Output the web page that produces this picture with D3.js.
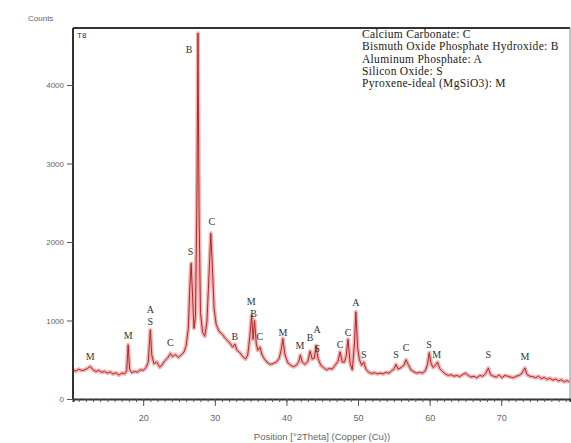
<!DOCTYPE html>
<html>
<head>
<meta charset="utf-8">
<script src="https://cdn.jsdelivr.net/npm/d3@7"></script>
<style>
  body { margin: 0; background: #fff; }
  svg { display: block; }
</style>
</head>
<body>
<div id="chart"></div>
<script>
var twoTheta = [10.2,10.6,11.0,11.4,11.8,12.2,12.6,13.0,13.4,13.8,14.2,14.6,15.0,15.4,15.8,16.2,16.6,17.0,17.4,17.7,17.9,18.1,18.4,18.8,19.2,19.6,20.0,20.4,20.7,21.0,21.2,21.5,21.9,22.3,22.6,23.0,23.4,23.8,24.1,24.5,24.9,25.3,25.7,26.0,26.3,26.5,26.7,26.9,27.1,27.3,27.5,27.65,27.8,28.0,28.3,28.6,28.9,29.2,29.45,29.7,29.9,30.2,30.6,31.0,31.4,31.8,32.2,32.5,32.8,33.1,33.5,33.9,34.3,34.6,34.9,35.15,35.35,35.55,35.8,36.0,36.3,36.6,37.0,37.4,37.8,38.2,38.6,39.0,39.3,39.5,39.8,40.2,40.6,41.0,41.4,41.7,41.95,42.2,42.6,43.0,43.3,43.6,43.9,44.15,44.4,44.8,45.2,45.6,46.0,46.4,46.8,47.2,47.5,47.8,48.1,48.35,48.6,48.9,49.2,49.5,49.7,49.95,50.2,50.5,50.8,51.1,51.5,51.9,52.3,52.7,53.1,53.5,53.9,54.3,54.7,55.0,55.3,55.6,56.0,56.4,56.7,57.0,57.4,57.8,58.2,58.6,59.0,59.4,59.7,59.95,60.2,60.5,60.8,61.1,61.4,61.8,62.2,62.6,63.0,63.4,63.8,64.2,64.6,65.0,65.4,65.8,66.2,66.6,67.0,67.4,67.8,68.2,68.5,68.9,69.3,69.7,70.1,70.5,70.9,71.3,71.7,72.1,72.5,72.9,73.3,73.6,74.0,74.4,74.8,75.2,75.6,76.0,76.4,76.8,77.2,77.6,78.0,78.4,78.8,79.2,79.5];
var counts = [372,355,380,362,370,388,415,372,350,365,340,352,330,345,318,335,305,330,322,360,690,380,335,350,342,372,365,400,470,880,560,450,470,405,430,485,520,580,540,565,530,560,600,680,900,1400,1730,1300,900,1050,2500,4660,2400,1100,850,800,980,1600,2110,1600,1150,950,860,830,780,740,700,660,700,620,590,540,510,560,800,1070,760,1000,700,620,660,560,500,460,440,455,470,520,640,770,560,460,430,410,430,470,560,470,440,480,610,510,520,680,520,430,400,370,390,380,430,480,600,470,470,550,760,450,370,700,1110,650,500,430,470,380,340,325,335,320,330,320,340,330,360,380,440,380,400,430,500,440,370,345,330,340,330,360,440,590,450,400,430,470,390,350,320,300,310,290,300,285,310,330,300,280,290,270,300,290,320,395,310,290,280,305,270,300,290,280,270,290,300,330,395,310,290,285,270,290,260,275,250,265,240,255,230,245,220,235,215];

// phase markers: letter, 2theta and the count level of the letter
var peakLabels = ["M","M","A","S","C","S","B","C","B","M","B","C","M","M","B","A","S","C","C","A","S","S","C","S","M","S","M"];
var peakTheta  = [12.6,17.9,21.0,21.0,23.8,26.6,26.4,29.6,32.8,35.1,35.4,36.3,39.5,41.9,43.3,44.3,44.3,47.5,48.6,49.7,50.8,55.3,56.7,59.9,61.0,68.2,73.3];
var peakLevel  = [497,764,1096,943,675,1834,4408,2217,752,1197,1045,752,803,637,739,841,599,650,803,1185,522,522,611,650,522,522,497];

var legendLines = ["Calcium Carbonate: C","Bismuth Oxide Phosphate Hydroxide: B","Aluminum Phosphate: A","Silicon Oxide: S","Pyroxene-ideal (MgSiO3): M"];
var xTicks = [20,30,40,50,60,70];
var yTicks = [0,1000,2000,3000,4000];

var W = 571, H = 443;
var mLeft = 73, mRight = 570, mTop = 28, mBottom = 399;

var svg = d3.select("#chart").append("svg")
  .attr("width", W).attr("height", H);

var x = d3.scaleLinear().domain([10.2, 79.6]).range([mLeft, mRight]);
var y = d3.scaleLinear().domain([0, 4726]).range([mBottom, mTop]);

var pts = twoTheta.map(function(t, i) { return [t, counts[i]]; });
var line = d3.line()
  .x(function(d) { return x(d[0]); })
  .y(function(d) { return y(d[1]); });

// pink halo under the trace
svg.append("path").datum(pts)
  .attr("d", line).attr("fill", "none")
  .attr("stroke", "#f3b3b3").attr("stroke-width", 4)
  .attr("stroke-linejoin", "round");
svg.append("path").datum(pts)
  .attr("d", line).attr("fill", "none")
  .attr("stroke", "#b3262b").attr("stroke-width", 1)
  .attr("stroke-linejoin", "round");

// frame
svg.append("line").attr("x1", mLeft).attr("x2", mRight).attr("y1", mTop).attr("y2", mTop)
  .attr("stroke", "#333").attr("stroke-width", 2);
svg.append("line").attr("x1", mRight).attr("x2", mRight).attr("y1", mTop).attr("y2", mBottom)
  .attr("stroke", "#888").attr("stroke-width", 1);

// x axis, minor ticks every degree
var xAxisMinor = d3.axisBottom(x).tickValues(d3.range(11, 80, 1)).tickSize(3).tickFormat("");
var gxm = svg.append("g").attr("transform", "translate(0," + mBottom + ")").call(xAxisMinor);
gxm.select(".domain").attr("stroke", "#333").attr("stroke-width", 2);
gxm.selectAll(".tick line").attr("stroke", "#555");

var xAxis = d3.axisBottom(x).tickValues(xTicks).tickSize(7).tickPadding(9);
var gx = svg.append("g").attr("transform", "translate(0," + mBottom + ")").call(xAxis);
gx.select(".domain").remove();
gx.selectAll(".tick line").attr("stroke", "#555");
gx.selectAll(".tick text").attr("fill", "#666")
  .style("font-family", "Liberation Sans, Arial, sans-serif").style("font-size", "9px");

var yAxis = d3.axisLeft(y).tickValues(yTicks).tickSize(6).tickPadding(3).tickFormat(d3.format("d"));
var gy = svg.append("g").attr("transform", "translate(" + mLeft + ",0)").call(yAxis);
gy.select(".domain").attr("stroke", "#333").attr("stroke-width", 2)
  .attr("d", "M0," + mTop + "V" + mBottom);
gy.selectAll(".tick line").attr("stroke", "#555");
gy.selectAll(".tick text").attr("fill", "#666")
  .style("font-family", "Liberation Sans, Arial, sans-serif").style("font-size", "8px");

svg.append("text").attr("x", 28).attr("y", 21).text("Counts")
  .attr("fill", "#666").style("font-family", "Liberation Sans, Arial, sans-serif").style("font-size", "8px");

svg.append("text").attr("x", 322).attr("y", 440)
  .attr("text-anchor", "middle").text("Position [°2Theta] (Copper (Cu))")
  .attr("fill", "#666").style("font-family", "Liberation Sans, Arial, sans-serif").style("font-size", "9.5px");

svg.append("text").attr("x", 77).attr("y", 38).text("T8")
  .attr("fill", "#333").style("font-family", "Liberation Sans, Arial, sans-serif").style("font-size", "8px");

// peak letters
svg.selectAll(".peak").data(peakLabels).enter().append("text")
  .attr("class", "peak")
  .attr("x", function(d, i) { return x(peakTheta[i]); })
  .attr("y", function(d, i) { return y(peakLevel[i]); })
  .attr("text-anchor", "middle")
  .attr("fill", "#333")
  .style("font-family", "Liberation Serif, Times New Roman, serif").style("font-size", "10px")
  .text(function(d) { return d; });

// legend
svg.selectAll(".leg").data(legendLines).enter().append("text")
  .attr("class", "leg")
  .attr("x", 362)
  .attr("y", function(d, i) { return 38 + i * 12.3; })
  .attr("fill", "#222")
  .style("font-family", "Liberation Serif, Times New Roman, serif").style("font-size", "11.5px")
  .style("letter-spacing", "0.3px")
  .text(function(d) { return d; });
</script>
</body>
</html>
